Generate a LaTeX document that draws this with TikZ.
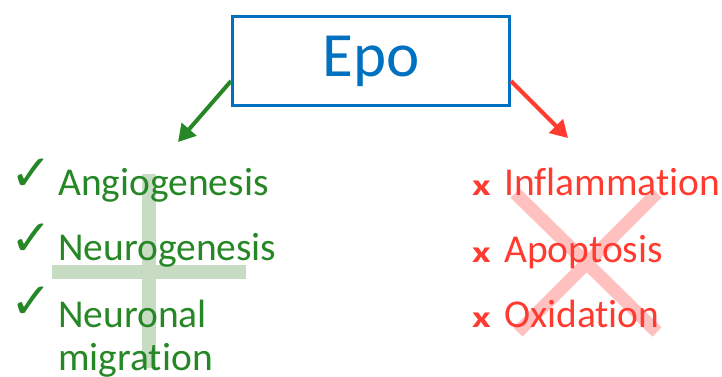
\documentclass[tikz,border=0pt]{standalone}
\usepackage{fontspec}
\setmainfont[Ligatures=NoCommon]{Carlito}
\newfontfamily\symfont{DejaVu Sans}
\usetikzlibrary{arrows.meta}
\definecolor{epoblue}{RGB}{0,112,192}
\definecolor{goodgreen}{RGB}{38,135,38}
\definecolor{badred}{RGB}{255,59,48}
\definecolor{crossgreen}{RGB}{200,220,196}
\definecolor{crossred}{RGB}{255,192,192}
\tikzset{
  item/.style={anchor=base west, inner sep=0pt, font=\fontsize{39.5}{43}\selectfont},
  gooditem/.style={item, text=goodgreen, align=left},
  baditem/.style={item, text=badred},
  tick/.style={anchor=base west, inner sep=0pt, text=goodgreen, font=\symfont\fontsize{50}{52}\selectfont},
  cross/.style={anchor=base west, inner sep=0pt, text=badred, font=\bfseries\fontsize{30}{32}\selectfont},
  conn/.style={line width=4pt, -{Triangle[length=17pt,width=19pt]}},
}
\begin{document}
\begin{tikzpicture}[x=1pt,y=-1pt]
\useasboundingbox (0,0) rectangle (722,376);
% background marks
\fill[crossgreen] (142,174) rectangle (156,368);
\fill[crossgreen] (52,265) rectangle (246,279);
\draw[crossred, line width=13pt] (515,193) -- (657,332);
\draw[crossred, line width=13pt] (657,193) -- (518,332);
% title box
\node[draw=epoblue, line width=3pt, minimum width=277pt, minimum height=89pt, inner sep=0pt,
      text=epoblue, font=\fontsize{63}{70}\selectfont] (epo) at (371,61) {Epo};
\coordinate (gtip) at (178,142);
\coordinate (rtip) at (568,138);
\draw[conn, goodgreen] ([yshift=-20pt]epo.west) -- (gtip);
\draw[conn, badred] ([yshift=-20pt]epo.east) -- (rtip);
% good list
\node[tick] (c1) at (10,190) {✓};
\node[tick] (c2) at (10,255) {✓};
\node[tick] (c3) at (10,318) {✓};
\node[gooditem] (ang) at (58,195) {Angiogenesis};
\node[gooditem] (neu) at (58,260) {Neurogenesis};
\node[gooditem] (neur) at (58,370) {Neuronal\\migration};
% bad list
\node[cross] (x1) at (472,195) {\scalebox{1.35}[1]{x}};
\node[cross] (x2) at (472,262) {\scalebox{1.35}[1]{x}};
\node[cross] (x3) at (472,327) {\scalebox{1.35}[1]{x}};
\node[baditem] (infl) at (504,195) {Inflammation};
\node[baditem] (apo) at (504,262) {Apoptosis};
\node[baditem] (oxi) at (504,327) {Oxidation};
\end{tikzpicture}
\end{document}
